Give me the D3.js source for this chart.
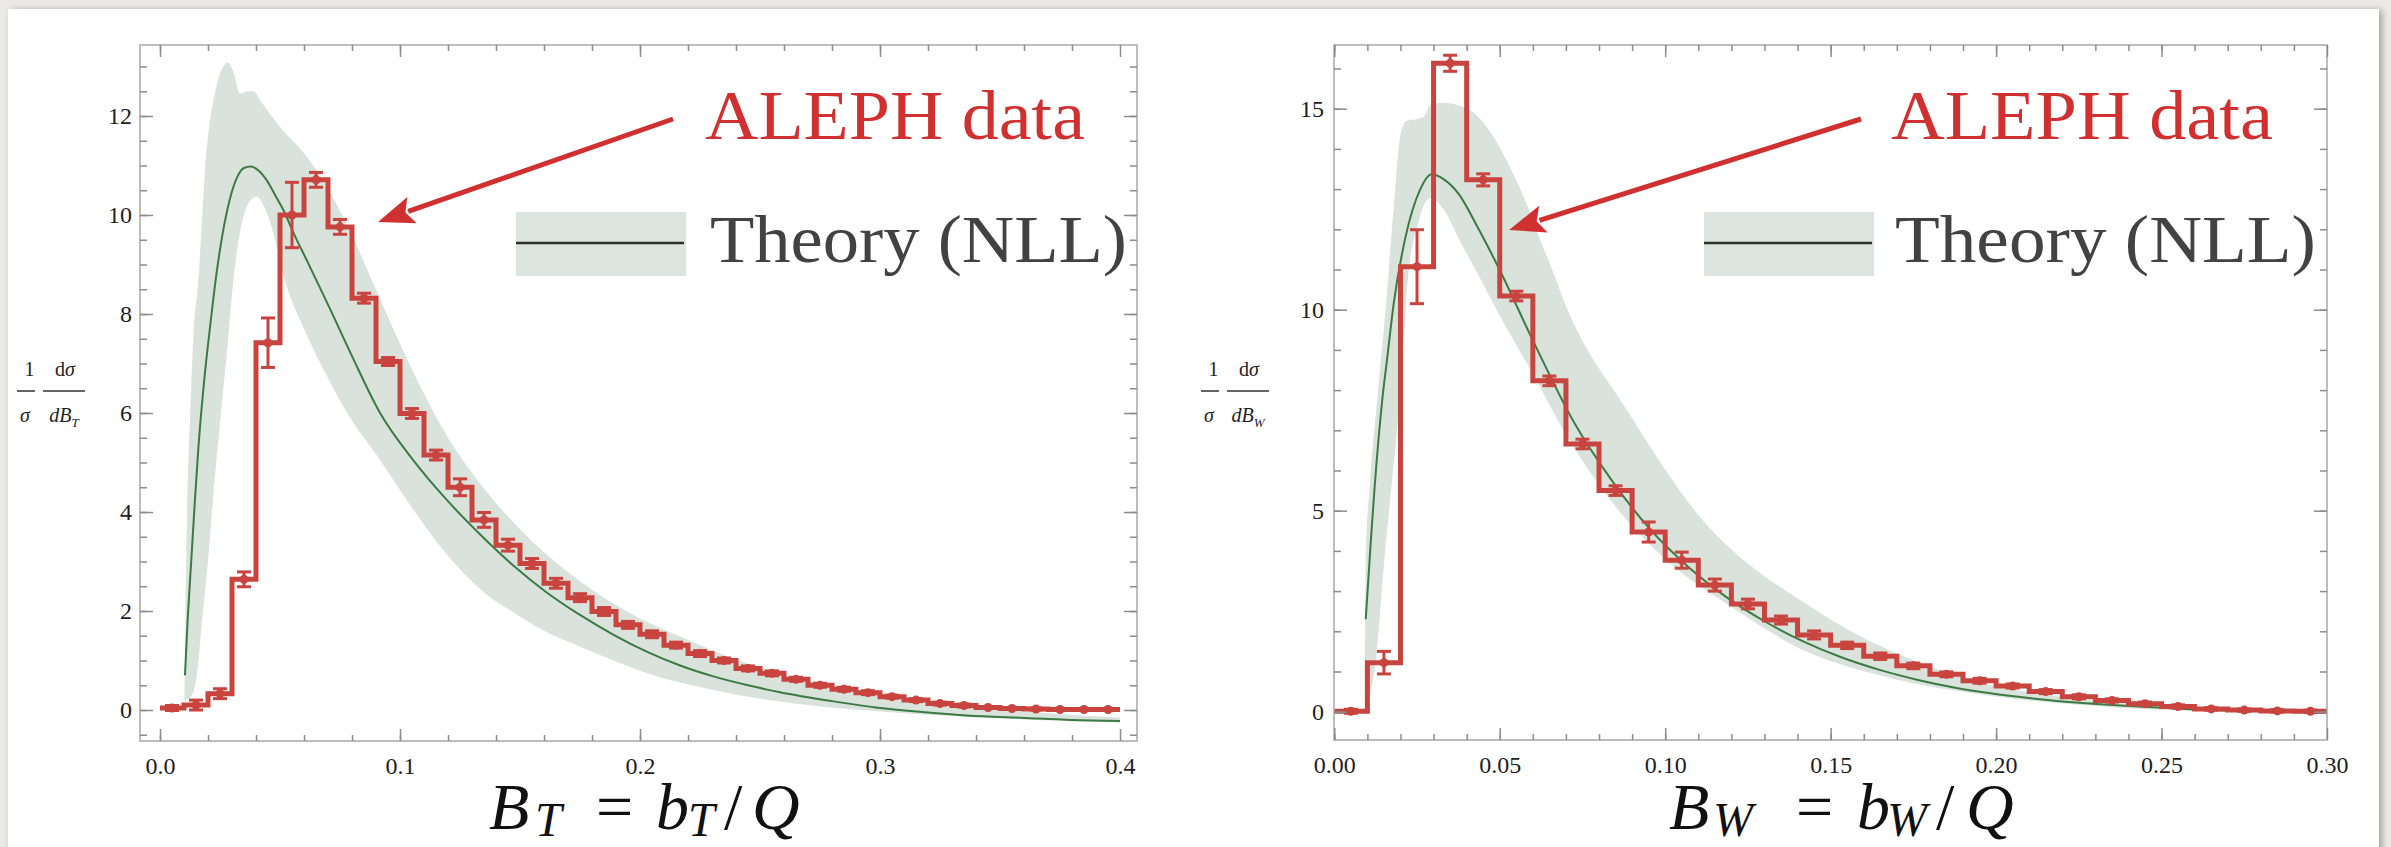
<!DOCTYPE html>
<html>
<head>
<meta charset="utf-8">
<script src="https://cdn.jsdelivr.net/npm/d3@7"></script>
<style>
  html, body { margin: 0; padding: 0; background: #ebe9e5; }
  svg { display: block; }
</style>
</head>
<body>
<svg id="chart" width="2391" height="847"></svg>
<script>
// ---------- Thrust-broadening B_T : ALEPH histogram (bins of 0.01 from 0) ----------
const btBinWidth = 0.01;
const btValues = [0.04, 0.1, 0.33, 2.64, 7.42, 10.0, 10.71, 9.76, 8.32, 7.04,
                  5.99, 5.15, 4.5, 3.84, 3.33, 2.96, 2.56, 2.27, 1.99, 1.72,
                  1.53, 1.31, 1.14, 1.0, 0.84, 0.74, 0.62, 0.5, 0.42, 0.35,
                  0.27, 0.2, 0.13, 0.09, 0.05, 0.03, 0.02, 0.01, 0.01, 0.01];
const btErrors = [0.05, 0.1, 0.1, 0.15, 0.5, 0.66, 0.15, 0.15, 0.1, 0.08,
                  0.1, 0.1, 0.17, 0.15, 0.12, 0.1, 0.1, 0.08, 0.08, 0.07,
                  0.07, 0.06, 0.06, 0.05, 0.05, 0.05, 0.04, 0.04, 0.04, 0.04,
                  0.03, 0.03, 0.03, 0.03, 0.02, 0.02, 0.02, 0.02, 0.02, 0.02];
// NLL prediction: central curve and uncertainty band edges, [B_T, value]
const btTheory = [[0.0104,0.7],[0.0115,1.8],[0.013,3.0],[0.0145,4.2],[0.016,5.3],[0.0185,6.7],
  [0.021,7.8],[0.0235,8.8],[0.026,9.6],[0.029,10.3],[0.032,10.75],[0.035,10.95],[0.0378,10.98],
  [0.041,10.9],[0.0445,10.7],[0.048,10.4],[0.0514,10.1],[0.056,9.6],[0.061,9.1],[0.0706,8.13],
  [0.08,7.15],[0.0917,6.0],[0.1055,5.05],[0.1194,4.25],[0.1333,3.55],[0.1472,2.92],[0.161,2.38],
  [0.175,1.92],[0.189,1.52],[0.2028,1.18],[0.2167,0.9],[0.2306,0.68],[0.245,0.5],[0.2583,0.36],
  [0.28,0.18],[0.3,0.04],[0.32,-0.05],[0.336,-0.11],[0.36,-0.16],[0.38,-0.2],[0.4,-0.22]];
const btBandUpper = [[0.0102,0.2],[0.0106,2.0],[0.0112,3.8],[0.0125,5.9],[0.014,7.6],[0.016,8.7],
  [0.0175,9.9],[0.0188,10.97],[0.0205,11.8],[0.0222,12.3],[0.025,12.85],[0.0282,13.08],[0.0305,12.9],
  [0.0335,12.45],[0.036,12.5],[0.039,12.5],[0.042,12.3],[0.0514,11.7],[0.06,11.25],[0.0667,10.8],
  [0.0785,9.75],[0.089,8.6],[0.1,7.4],[0.112,6.2],[0.12,5.5],[0.133,4.6],[0.15,3.65],[0.175,2.6],
  [0.2,1.85],[0.217,1.48],[0.24,1.02],[0.258,0.74],[0.28,0.5],[0.3,0.34],[0.33,0.12],[0.36,-0.03],[0.4,-0.15]];
const btBandLower = [[0.0102,0.2],[0.0125,0.25],[0.0153,0.67],[0.0175,1.8],[0.02,3.0],[0.0225,4.5],
  [0.025,5.8],[0.028,7.3],[0.0306,8.69],[0.0335,9.7],[0.037,10.25],[0.0403,10.37],[0.044,10.1],
  [0.048,9.5],[0.052,8.69],[0.06,7.7],[0.07,6.7],[0.078,6.0],[0.0917,5.05],[0.102,4.3],[0.119,3.17],
  [0.137,2.3],[0.147,1.98],[0.16,1.6],[0.175,1.28],[0.19,0.98],[0.203,0.74],[0.231,0.4],[0.258,0.17],
  [0.28,0.05],[0.3,-0.03],[0.33,-0.12],[0.36,-0.19],[0.4,-0.25]];
const btXTicks = [0, 0.1, 0.2, 0.3, 0.4];
const btYTicks = [0, 2, 4, 6, 8, 10, 12];

// ---------- Wide-jet broadening B_W ----------
const bwBinWidth = 0.01;
const bwValues = [0.01, 1.22, 11.07, 16.13, 13.23, 10.34, 8.23, 6.66, 5.5, 4.47,
                  3.77, 3.15, 2.68, 2.28, 1.91, 1.65, 1.38, 1.14, 0.93, 0.77,
                  0.64, 0.5, 0.37, 0.28, 0.2, 0.13, 0.07, 0.04, 0.02, 0.01];
const bwErrors = [0.05, 0.28, 0.92, 0.2, 0.15, 0.12, 0.12, 0.12, 0.12, 0.25,
                  0.2, 0.15, 0.12, 0.1, 0.1, 0.08, 0.08, 0.07, 0.06, 0.06,
                  0.05, 0.05, 0.05, 0.04, 0.04, 0.04, 0.03, 0.03, 0.03, 0.03];
const bwTheory = [[0.0095,2.3],[0.011,4.2],[0.0122,5.6],[0.0145,7.76],[0.016,8.8],[0.018,10.18],
  [0.0215,11.8],[0.026,13.0],[0.0294,13.37],[0.033,13.25],[0.0377,12.87],[0.043,12.1],[0.0492,11.12],
  [0.0608,9.1],[0.0723,7.22],[0.0839,5.75],[0.0954,4.54],[0.107,3.6],[0.1185,2.85],[0.13,2.25],
  [0.1417,1.75],[0.153,1.36],[0.1648,1.04],[0.1764,0.79],[0.188,0.59],[0.211,0.33],[0.234,0.17],
  [0.257,0.07],[0.28,0.01],[0.3,-0.02]];
const bwBandUpper = [[0.0093,0.3],[0.0095,3.8],[0.0107,5.6],[0.013,7.8],[0.0157,10.2],[0.018,12.6],
  [0.0201,14.4],[0.022,14.7],[0.0255,14.75],[0.0271,14.8],[0.0292,15.1],[0.033,15.15],[0.037,15.1],
  [0.0422,14.9],[0.0473,14.4],[0.0525,13.64],[0.0573,12.8],[0.0624,11.7],[0.0655,11.07],[0.07,10.1],
  [0.0885,7.5],[0.109,5.0],[0.146,2.5],[0.188,0.9],[0.234,0.24],[0.27,0.03],[0.3,-0.03]];
const bwBandLower = [[0.0093,0.1],[0.011,0.5],[0.0126,1.28],[0.0151,3.77],[0.0173,5.6],[0.0203,8.3],
  [0.0222,10.73],[0.0255,12.2],[0.029,12.77],[0.033,12.5],[0.038,11.7],[0.0444,10.73],[0.049,10.0],
  [0.06,8.4],[0.07,6.9],[0.086,5.0],[0.1,3.8],[0.122,2.5],[0.14,1.6],[0.165,0.9],[0.2,0.38],
  [0.234,0.12],[0.27,0.0],[0.3,-0.03]];
const bwXTicks = [0, 0.05, 0.1, 0.15, 0.2, 0.25, 0.3];
const bwYTicks = [0, 5, 10, 15];

// ---------- styling ----------
const SERIF = "'Liberation Serif', 'Times New Roman', 'DejaVu Serif', serif";
const RED_HIST = "#c9443e";
const RED_TEXT = "#d0302f";
const GREEN = "#3c7a43";
const BAND = "#d9e3dc";
const TICK = "#8c8c8c";
const FRAME = "#adadad";

const svg = d3.select("#chart");
const defs = svg.append("defs");
const shadow = defs.append("filter").attr("id", "panelShadow")
  .attr("x", "-2%").attr("y", "-2%").attr("width", "104%").attr("height", "104%");
shadow.append("feDropShadow").attr("dx", 3).attr("dy", 1).attr("stdDeviation", 3)
  .attr("flood-color", "#000").attr("flood-opacity", 0.3);

// white slide panel
svg.append("rect").attr("x", 8).attr("y", 9).attr("width", 2371).attr("height", 860)
  .attr("fill", "#ffffff").attr("filter", "url(#panelShadow)");

function drawPanel(cfg) {
  const g = svg.append("g");
  const x = d3.scaleLinear().domain(cfg.xDomain).range(cfg.xRange);
  const y = d3.scaleLinear().domain(cfg.yDomain).range(cfg.yRange);
  const f = cfg.frame;

  const smooth = d3.line().x(d => x(d[0])).y(d => y(d[1])).curve(d3.curveMonotoneX);

  // uncertainty band: upper edge left-to-right, lower edge back right-to-left
  const up = smooth(cfg.upper);
  const lo = smooth(cfg.lower.slice().reverse());
  g.append("path").attr("d", up + "L" + lo.slice(1) + "Z")
    .attr("fill", BAND).attr("stroke", "none");

  // central NLL curve
  g.append("path").attr("d", smooth(cfg.theory))
    .attr("fill", "none").attr("stroke", GREEN).attr("stroke-width", 2);

  // data histogram as a step line
  const steps = [];
  cfg.values.forEach((v, i) => {
    steps.push([i * cfg.binWidth, v]);
    steps.push([(i + 1) * cfg.binWidth, v]);
  });
  g.append("path")
    .attr("d", d3.line().x(d => x(d[0])).y(d => y(d[1]))(steps))
    .attr("fill", "none").attr("stroke", RED_HIST).attr("stroke-width", 5)
    .attr("stroke-linejoin", "miter");

  // error bars with caps and centre markers
  const eb = g.append("g").attr("stroke", RED_HIST).attr("stroke-width", 3);
  cfg.values.forEach((v, i) => {
    const cx = x((i + 0.5) * cfg.binWidth);
    const e = cfg.errors[i];
    const y1 = y(v + e), y2 = y(v - e);
    eb.append("line").attr("x1", cx).attr("x2", cx).attr("y1", y1).attr("y2", y2);
    eb.append("line").attr("x1", cx - 7).attr("x2", cx + 7).attr("y1", y1).attr("y2", y1);
    eb.append("line").attr("x1", cx - 7).attr("x2", cx + 7).attr("y1", y2).attr("y2", y2);
    eb.append("circle").attr("cx", cx).attr("cy", y(v)).attr("r", 4.5)
      .attr("fill", RED_HIST).attr("stroke", "none");
  });

  // frame
  g.append("rect").attr("x", f.x0).attr("y", f.y0)
    .attr("width", f.x1 - f.x0).attr("height", f.y1 - f.y0)
    .attr("fill", "none").attr("stroke", FRAME).attr("stroke-width", 1.6);

  // ticks on all four sides, pointing inward
  function styleAxis(sel, withText) {
    sel.select(".domain").remove();
    sel.selectAll("line").attr("stroke", TICK).attr("stroke-width", 1.5);
    sel.attr("font-family", SERIF).attr("font-size", 24);
    if (withText) sel.selectAll("text").attr("fill", "#1e1e1e");
  }
  const xMinor = d3.range(cfg.xDomain[0] + 1e-9, cfg.xDomain[1] + 1e-9, cfg.xMinorStep)
    .map(v => Math.round(v / cfg.xMinorStep) * cfg.xMinorStep)
    .filter(v => v >= 0 && v <= cfg.xTicks[cfg.xTicks.length - 1] + 1e-9);
  const yMinor = d3.range(Math.ceil(y.invert(f.y1) / cfg.yMinorStep), Math.floor(y.invert(f.y0) / cfg.yMinorStep) + 1)
    .map(k => k * cfg.yMinorStep);

  g.append("g").attr("transform", `translate(0,${f.y1})`)
    .call(d3.axisBottom(x).tickValues(cfg.xTicks).tickSize(-12).tickPadding(16).tickFormat(cfg.xFormat))
    .call(s => styleAxis(s, true));
  g.append("g").attr("transform", `translate(0,${f.y1})`)
    .call(d3.axisBottom(x).tickValues(xMinor).tickSize(-6).tickFormat(""))
    .call(s => styleAxis(s, false));
  g.append("g").attr("transform", `translate(0,${f.y0})`)
    .call(d3.axisTop(x).tickValues(cfg.xTicks).tickSize(-12).tickFormat(""))
    .call(s => styleAxis(s, false));
  g.append("g").attr("transform", `translate(0,${f.y0})`)
    .call(d3.axisTop(x).tickValues(xMinor).tickSize(-6).tickFormat(""))
    .call(s => styleAxis(s, false));
  g.append("g").attr("transform", `translate(${f.x0},0)`)
    .call(d3.axisLeft(y).tickValues(cfg.yTicks).tickSize(-13).tickPadding(cfg.yPad).tickFormat(d3.format("d")))
    .call(s => styleAxis(s, true));
  g.append("g").attr("transform", `translate(${f.x0},0)`)
    .call(d3.axisLeft(y).tickValues(yMinor).tickSize(-7).tickFormat(""))
    .call(s => styleAxis(s, false));
  g.append("g").attr("transform", `translate(${f.x1},0)`)
    .call(d3.axisRight(y).tickValues(cfg.yTicks).tickSize(-13).tickFormat(""))
    .call(s => styleAxis(s, false));
  g.append("g").attr("transform", `translate(${f.x1},0)`)
    .call(d3.axisRight(y).tickValues(yMinor).tickSize(-7).tickFormat(""))
    .call(s => styleAxis(s, false));

  // y-axis label: (1/sigma) dsigma/dB
  const yl = g.append("g").attr("transform", `translate(${cfg.yLabelX},0)`)
    .attr("font-family", SERIF).attr("font-size", 20).attr("fill", "#1e1e1e");
  yl.append("text").attr("x", 29.5).attr("y", 376).attr("text-anchor", "middle").text("1");
  const num = yl.append("text").attr("x", 65).attr("y", 376).attr("text-anchor", "middle");
  num.append("tspan").text("d");
  num.append("tspan").attr("font-style", "italic").text("σ");
  yl.append("line").attr("x1", 17).attr("x2", 35).attr("y1", 391).attr("y2", 391)
    .attr("stroke", "#666").attr("stroke-width", 2);
  yl.append("line").attr("x1", 43).attr("x2", 85).attr("y1", 391).attr("y2", 391)
    .attr("stroke", "#666").attr("stroke-width", 2);
  yl.append("text").attr("x", 25).attr("y", 422).attr("text-anchor", "middle")
    .attr("font-style", "italic").text("σ");
  const den = yl.append("text").attr("x", 64).attr("y", 422).attr("text-anchor", "middle")
    .attr("font-style", "italic");
  den.append("tspan").text("dB");
  den.append("tspan").attr("font-size", 13).attr("dy", 5).text(cfg.sub);

  // x-axis title in math style
  const tt = g.append("g").attr("font-family", SERIF).attr("fill", "#111");
  cfg.title.forEach(p => {
    tt.append("text").attr("x", p.x).attr("y", p.sub ? 836 : 829)
      .attr("font-size", p.sub ? 48 : 66)
      .attr("font-style", p.italic ? "italic" : "normal")
      .text(p.t);
  });

  // legend
  const L = cfg.legend;
  g.append("rect").attr("x", L.sx).attr("y", 212).attr("width", 170).attr("height", 64)
    .attr("fill", "#dce5dd");
  g.append("line").attr("x1", L.sx).attr("x2", L.sx + 168).attr("y1", 243).attr("y2", 243)
    .attr("stroke", "#2e2e2e").attr("stroke-width", 2.5);
  g.append("text").attr("x", L.tx).attr("y", 262).attr("font-family", SERIF)
    .attr("font-size", 68).attr("fill", "#424242")
    .attr("textLength", L.tw).attr("lengthAdjust", "spacingAndGlyphs").text("Theory (NLL)");
  g.append("text").attr("x", L.ax).attr("y", 139).attr("font-family", SERIF)
    .attr("font-size", 70).attr("fill", RED_TEXT)
    .attr("textLength", L.aw).attr("lengthAdjust", "spacingAndGlyphs").text("ALEPH data");

  // arrow from the data label to the histogram
  const A = cfg.arrow;
  const dx = A.tip[0] - A.tail[0], dy = A.tip[1] - A.tail[1];
  const len = Math.hypot(dx, dy), ux = dx / len, uy = dy / len;
  const headLen = 36, headHalf = 14;
  const bx = A.tip[0] - ux * headLen, by = A.tip[1] - uy * headLen;
  g.append("line").attr("x1", A.tail[0]).attr("y1", A.tail[1])
    .attr("x2", bx + ux * 4).attr("y2", by + uy * 4)
    .attr("stroke", RED_TEXT).attr("stroke-width", 5);
  g.append("path")
    .attr("d", `M${A.tip[0]},${A.tip[1]}L${bx - uy * headHalf},${by + ux * headHalf}L${bx + ux * 7},${by + uy * 7}L${bx + uy * headHalf},${by - ux * headHalf}Z`)
    .attr("fill", RED_TEXT);
}

drawPanel({
  xDomain: [0, 0.4], xRange: [160, 1120],
  yDomain: [0, 13], yRange: [710, 710 - 13 * 49.5],
  frame: { x0: 140, x1: 1137, y0: 45, y1: 741 },
  values: btValues, errors: btErrors, binWidth: btBinWidth,
  theory: btTheory, upper: btBandUpper, lower: btBandLower,
  xTicks: btXTicks, yTicks: btYTicks, xMinorStep: 0.02, yMinorStep: 0.5,
  xFormat: d3.format(".1f"), yPad: 8,
  yLabelX: 0, sub: "T",
  title: [
    { t: "B", x: 489, italic: true }, { t: "T", x: 535, italic: true, sub: true },
    { t: "=", x: 596 }, { t: "b", x: 656, italic: true },
    { t: "T", x: 688, italic: true, sub: true }, { t: "/", x: 724 },
    { t: "Q", x: 752, italic: true }
  ],
  legend: { sx: 516, tx: 710, tw: 417, ax: 705, aw: 380 },
  arrow: { tail: [673, 119], tip: [378, 222] }
});

drawPanel({
  xDomain: [0, 0.3], xRange: [1334.3, 2327],
  yDomain: [0, 15], yRange: [711.7, 711.7 - 15 * 40.2],
  frame: { x0: 1334, x1: 2327, y0: 45, y1: 740 },
  values: bwValues, errors: bwErrors, binWidth: bwBinWidth,
  theory: bwTheory, upper: bwBandUpper, lower: bwBandLower,
  xTicks: bwXTicks, yTicks: bwYTicks, xMinorStep: 0.01, yMinorStep: 1,
  xFormat: d3.format(".2f"), yPad: 10,
  yLabelX: 1184, sub: "W",
  title: [
    { t: "B", x: 1669, italic: true }, { t: "W", x: 1713, italic: true, sub: true },
    { t: "=", x: 1796 }, { t: "b", x: 1857, italic: true },
    { t: "W", x: 1887, italic: true, sub: true }, { t: "/", x: 1936 },
    { t: "Q", x: 1966, italic: true }
  ],
  legend: { sx: 1704, tx: 1895, tw: 421, ax: 1891, aw: 382 },
  arrow: { tail: [1861, 119], tip: [1509, 230] }
});
</script>
</body>
</html>
